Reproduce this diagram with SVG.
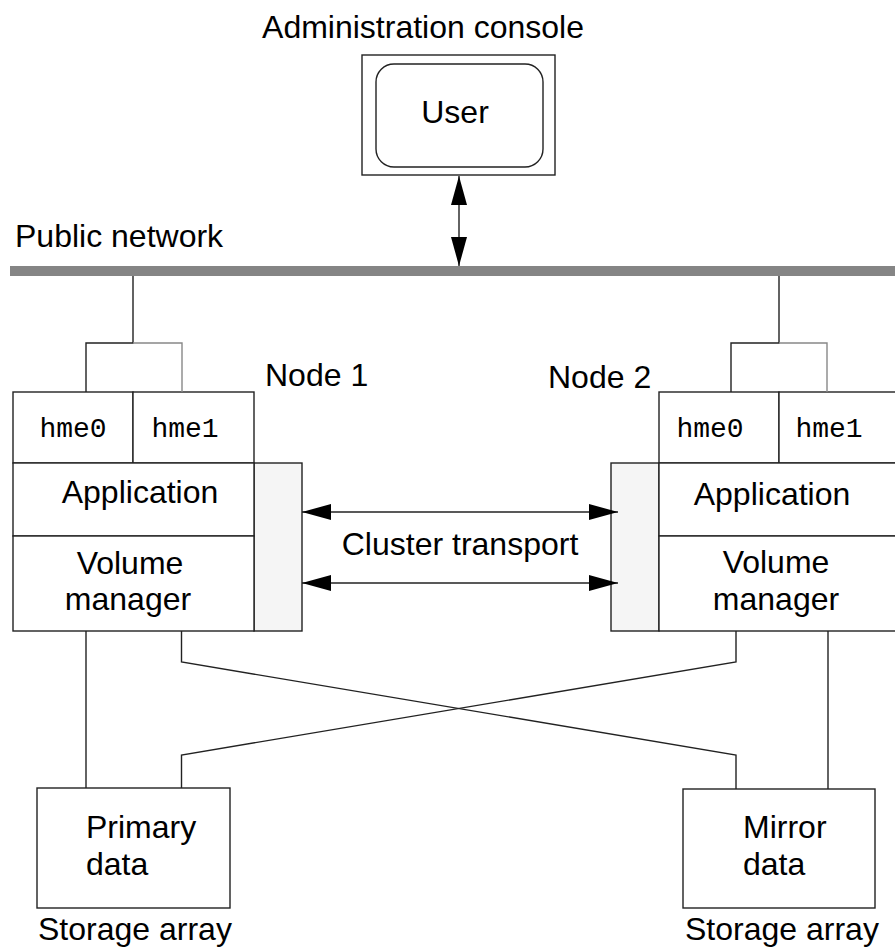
<svg xmlns="http://www.w3.org/2000/svg" width="895" height="952" viewBox="0 0 895 952">
<style>
.t{font-family:"Liberation Sans",Arial,sans-serif;font-size:32px;fill:#000}
.m{font-family:"Courier New","Liberation Mono",monospace;font-size:28px;fill:#000}
.b{fill:#fff;stroke:#222;stroke-width:1.4}
.g{fill:#f5f5f5;stroke:#222;stroke-width:1.4}
.l{fill:none;stroke:#222;stroke-width:1.4}
.lg{fill:none;stroke:#888;stroke-width:1.4}
</style>
<defs>
<marker id="ah" viewBox="0 0 29 16" markerWidth="29" markerHeight="16" refX="29" refY="8" orient="auto-start-reverse" markerUnits="userSpaceOnUse">
<path d="M0,0 L29,8 L0,16 z" fill="#000"/>
</marker>
</defs>
<rect width="895" height="952" fill="#fff"/>

<g id="console">
<text class="t" x="423" y="38" text-anchor="middle">Administration console</text>
<rect class="b" x="362" y="55" width="193" height="120"/>
<rect class="b" x="376" y="64" width="167" height="103" rx="18" ry="18"/>
<text class="t" x="455" y="123" text-anchor="middle">User</text>
</g>

<g id="network">
<text class="t" x="15" y="247">Public network</text>
<rect x="10" y="266" width="885" height="10" fill="#858585"/>
</g>

<g id="node1">
<text class="t" x="265" y="386">Node 1</text>
<rect class="g" x="254" y="463" width="48" height="168"/>
<rect class="b" x="13" y="392" width="120" height="71"/>
<rect class="b" x="133" y="392" width="121" height="71"/>
<rect class="b" x="13" y="463" width="241" height="73"/>
<rect class="b" x="13" y="536" width="241" height="95"/>
<text class="m" x="73" y="437" text-anchor="middle">hme0</text>
<text class="m" x="185" y="437" text-anchor="middle">hme1</text>
<text class="t" x="140" y="503" text-anchor="middle">Application</text>
<text class="t" x="130" y="574" text-anchor="middle">Volume</text>
<text class="t" x="128" y="610" text-anchor="middle">manager</text>
</g>

<g id="node2">
<text class="t" x="548" y="388">Node 2</text>
<rect class="g" x="611" y="463" width="48" height="168"/>
<rect class="b" x="659" y="392" width="120" height="71"/>
<rect class="b" x="779" y="392" width="130" height="71"/>
<rect class="b" x="659" y="463" width="250" height="73"/>
<rect class="b" x="659" y="536" width="250" height="95"/>
<text class="m" x="710" y="437" text-anchor="middle">hme0</text>
<text class="m" x="829" y="437" text-anchor="middle">hme1</text>
<text class="t" x="772" y="505" text-anchor="middle">Application</text>
<text class="t" x="776" y="573" text-anchor="middle">Volume</text>
<text class="t" x="776" y="610" text-anchor="middle">manager</text>
</g>

<g id="transport">
<text class="t" x="460" y="555" text-anchor="middle">Cluster transport</text>
</g>

<g id="primary">
<rect class="b" x="37" y="788" width="193" height="120"/>
<text class="t" x="86" y="838">Primary</text>
<text class="t" x="86" y="875">data</text>
<text class="t" x="38" y="940">Storage array</text>
</g>

<g id="mirror">
<rect class="b" x="683" y="789" width="192" height="119"/>
<text class="t" x="743" y="838">Mirror</text>
<text class="t" x="743" y="875">data</text>
<text class="t" x="685" y="940">Storage array</text>
</g>

<g id="connectors">
<line class="l" x1="459" y1="176" x2="459" y2="266" marker-start="url(#ah)" marker-end="url(#ah)"/>
<line class="l" x1="302" y1="512" x2="618" y2="512" marker-start="url(#ah)" marker-end="url(#ah)"/>
<line class="l" x1="302" y1="583" x2="618" y2="583" marker-start="url(#ah)" marker-end="url(#ah)"/>
<polyline class="l" points="133,276 133,343 86,343 86,392"/>
<polyline class="lg" points="133,343 182,343 182,392"/>
<polyline class="l" points="779,276 779,343 731,343 731,392"/>
<polyline class="lg" points="779,343 827,343 827,392"/>
<line class="l" x1="86" y1="631" x2="86" y2="788"/>
<polyline class="l" points="181.5,631 181.5,662 736,755 736,789"/>
<line class="l" x1="828" y1="631" x2="828" y2="789"/>
<polyline class="l" points="736,631 736,662 181.5,755 181.5,788"/>
</g>
</svg>
